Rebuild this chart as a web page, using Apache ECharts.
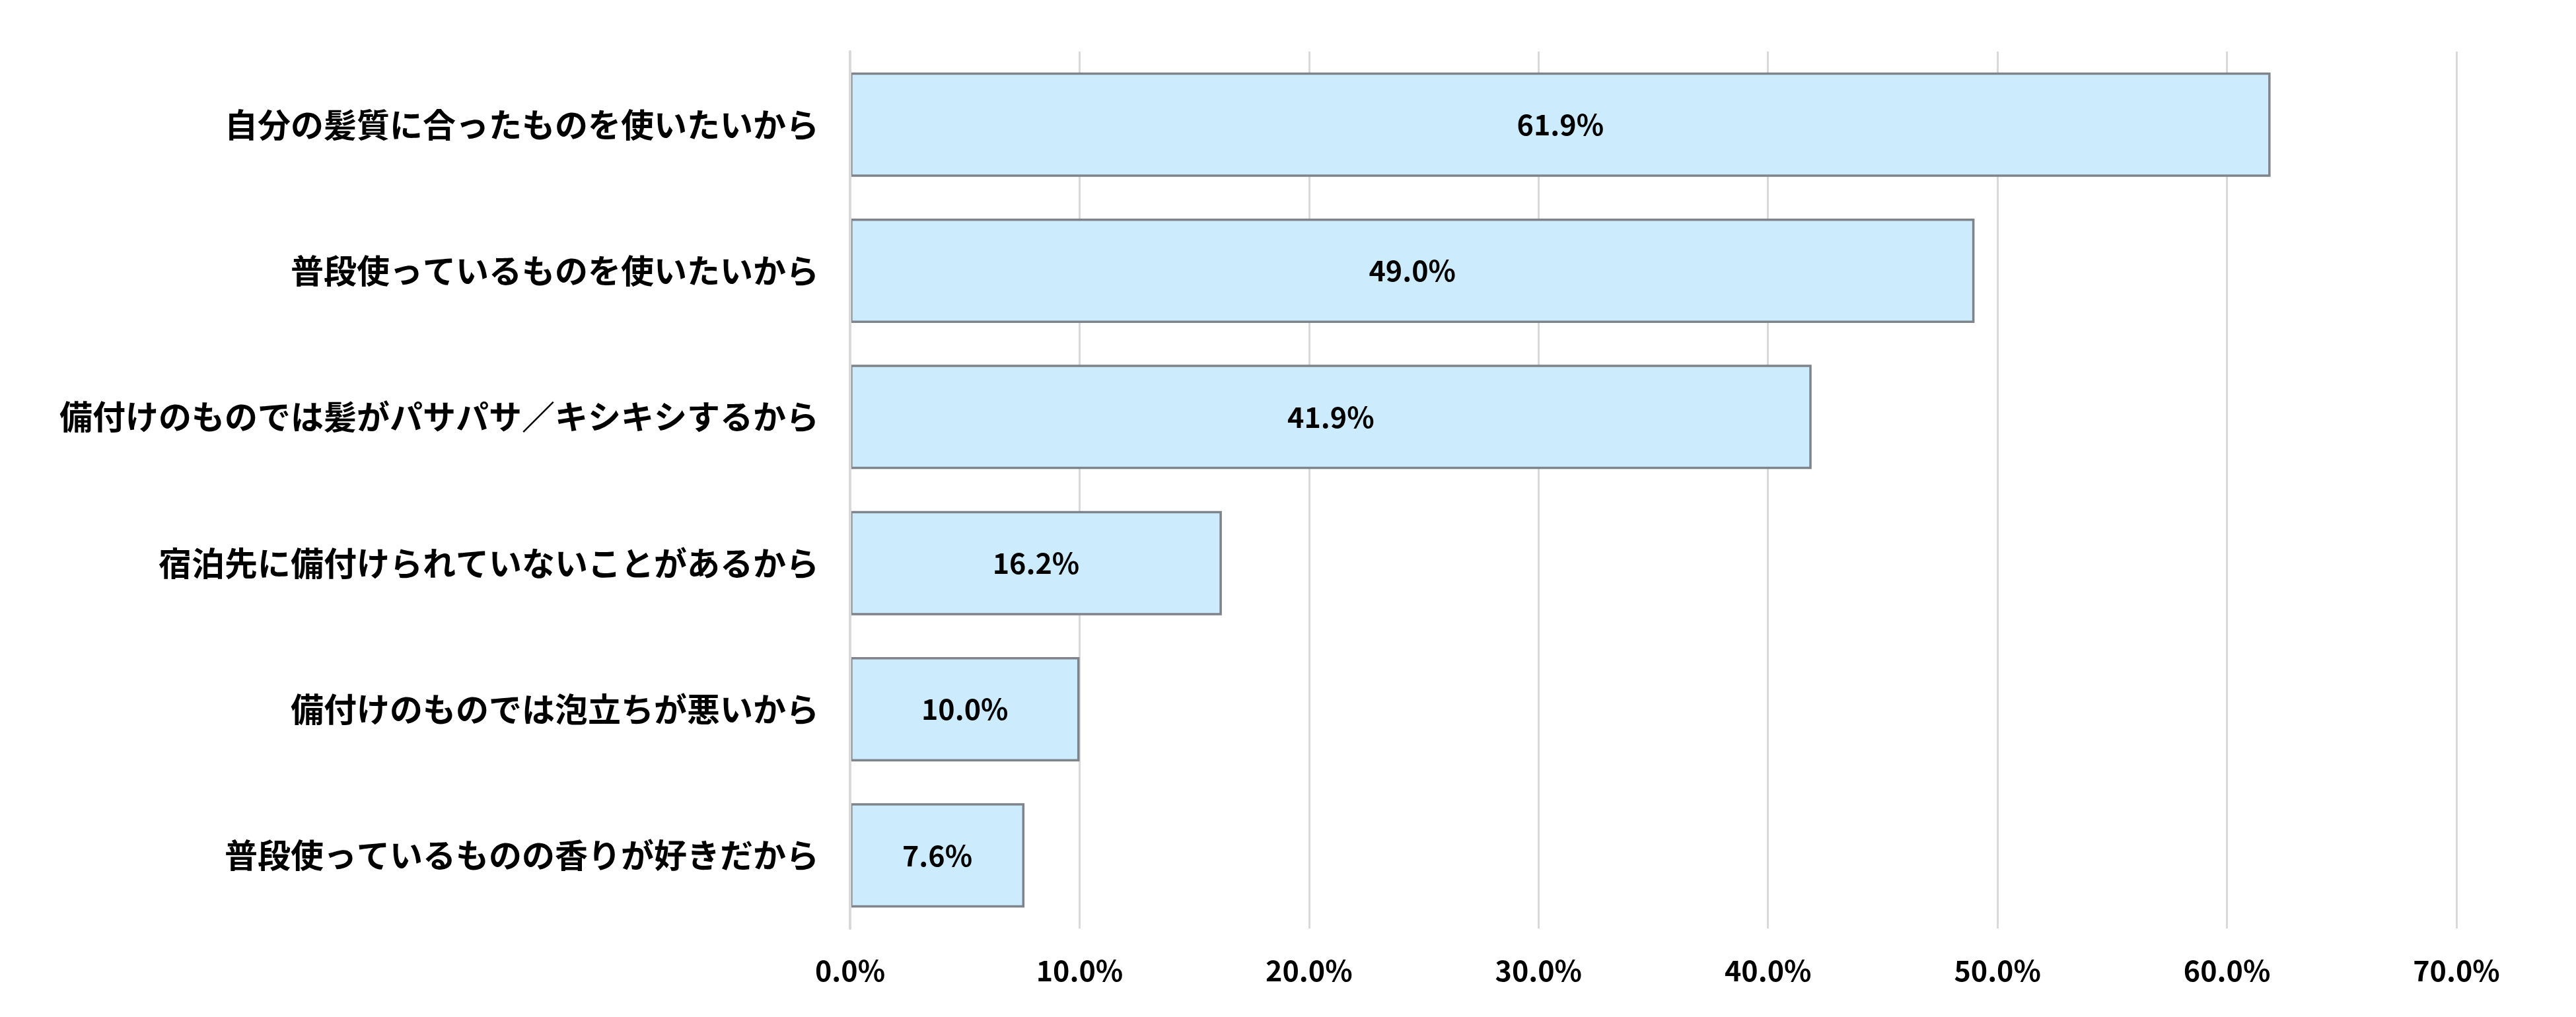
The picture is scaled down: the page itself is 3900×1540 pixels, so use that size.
<!DOCTYPE html>
<html>
<head>
<meta charset="utf-8">
<script src="https://cdn.jsdelivr.net/npm/echarts@6/dist/echarts.min.js"></script>
<style>
html,body{margin:0;padding:0;background:#fff;}
#chart{width:3900px;height:1540px;}
</style>
</head>
<body>
<div id="chart"></div>
<script>
const categories = [
  '自分の髪質に合ったものを使いたいから',
  '普段使っているものを使いたいから',
  '備付けのものでは髪がパサパサ／キシキシするから',
  '宿泊先に備付けられていないことがあるから',
  '備付けのものでは泡立ちが悪いから',
  '普段使っているものの香りが好きだから'
];
const values = [61.9, 49.0, 41.9, 16.2, 10.0, 7.6];
const xTicks = [0, 10, 20, 30, 40, 50, 60, 70];

const FONT = '"Noto Sans CJK JP", "Noto Sans", sans-serif';
const chart = echarts.init(document.getElementById('chart'), null, {renderer: 'canvas'});
chart.setOption({
  backgroundColor: '#ffffff',
  animation: false,
  grid: {left: 1287, right: 181, top: 78, bottom: 134, containLabel: false},
  xAxis: {
    type: 'value',
    min: xTicks[0],
    max: xTicks[xTicks.length - 1],
    interval: 10,
    axisLine: {show: false},
    axisTick: {show: false},
    splitLine: {show: true, lineStyle: {color: '#D9D9D9', width: 3}},
    axisLabel: {
      margin: 42,
      fontFamily: FONT,
      fontWeight: 'bold',
      fontSize: 43,
      color: '#000',
      formatter: v => v.toFixed(1) + '%'
    }
  },
  yAxis: {
    type: 'category',
    data: categories,
    inverse: true,
    z: 10,
    axisLine: {show: true, lineStyle: {color: '#D9D9D9', width: 4}},
    axisTick: {show: false},
    axisLabel: {
      margin: 47,
      fontFamily: FONT,
      fontWeight: 'bold',
      fontSize: 50,
      color: '#000'
    }
  },
  series: [{
    type: 'bar',
    data: values,
    barWidth: 158,
    itemStyle: {color: '#CCEBFC', borderColor: '#7F848A', borderWidth: 3.5},
    label: {
      show: true,
      position: 'inside',
      fontFamily: FONT,
      fontWeight: 'bold',
      fontSize: 43,
      color: '#000',
      formatter: p => p.value.toFixed(1) + '%'
    }
  }]
});
</script>
</body>
</html>
